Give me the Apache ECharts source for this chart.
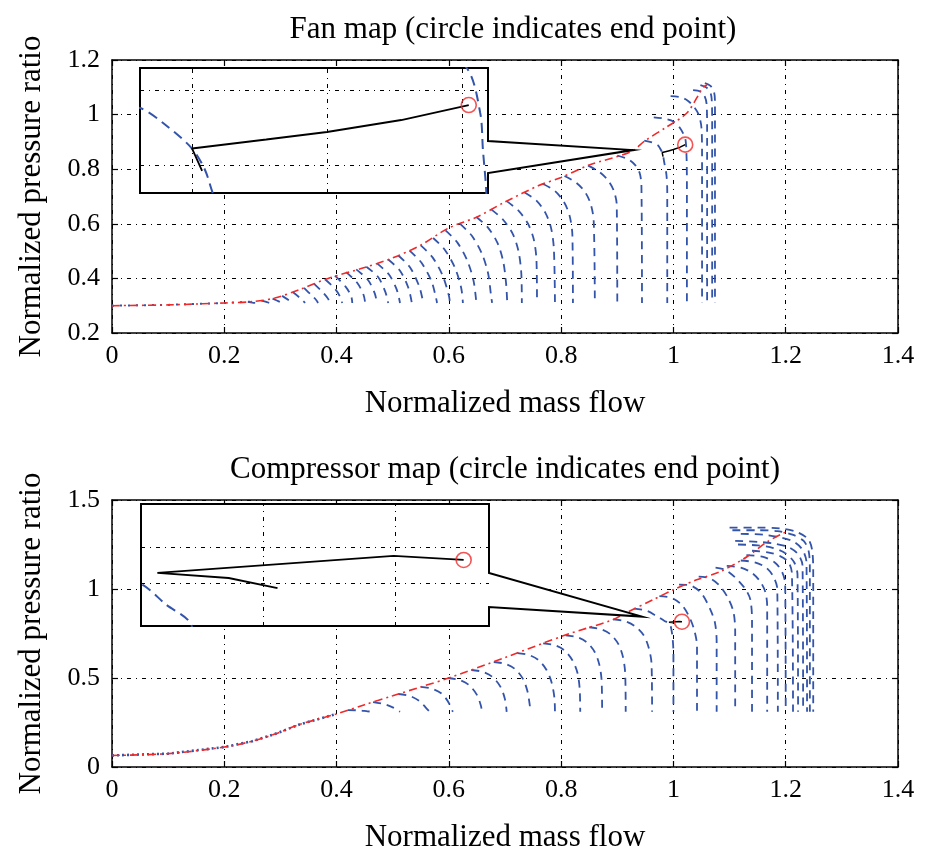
<!DOCTYPE html>
<html><head><meta charset="utf-8">
<script src="https://cdn.jsdelivr.net/npm/echarts@6/dist/echarts.min.js"></script>
<style>html,body{margin:0;padding:0;background:#fff}#c{width:925px;height:854px}</style>
</head><body><div id="c"></div>
<script>
// ---------------- DATA ----------------
const xTicks = [0, 0.2, 0.4, 0.6, 0.8, 1, 1.2, 1.4];
const fanYTicks = [0.2, 0.4, 0.6, 0.8, 1, 1.2];
const compYTicks = [0, 0.5, 1, 1.5];

// Fan map surge line (red dash-dot)
const fanSurgeX = [0, 0.1, 0.2, 0.25, 0.29, 0.335, 0.385, 0.45, 0.5, 0.55, 0.6, 0.65, 0.7, 0.76, 0.8, 0.85, 0.925, 0.95, 0.985, 1.024, 1.053, 1.06];
const fanSurgeY = [0.30, 0.303, 0.31, 0.315, 0.328, 0.36, 0.40, 0.44, 0.475, 0.522, 0.585, 0.625, 0.68, 0.74, 0.77, 0.815, 0.865, 0.905, 0.951, 1.006, 1.10, 1.108];

// Fan map speed lines (blue dashed), one array per line
const fanSpeedLines = [
 [[0.242,0.314],[0.250,0.311],[0.255,0.310]],
 [[0.266,0.319],[0.276,0.313],[0.281,0.310]],
 [[0.286,0.326],[0.297,0.316],[0.303,0.310]],
 [[0.303,0.336],[0.315,0.320],[0.322,0.310]],
 [[0.322,0.350],[0.335,0.328],[0.344,0.310]],
 [[0.342,0.365],[0.356,0.337],[0.364,0.320],[0.367,0.310]],
 [[0.360,0.380],[0.376,0.348],[0.385,0.325],[0.388,0.310]],
 [[0.380,0.396],[0.398,0.360],[0.407,0.330],[0.410,0.310]],
 [[0.397,0.410],[0.416,0.370],[0.426,0.335],[0.428,0.310]],
 [[0.417,0.423],[0.437,0.383],[0.448,0.340],[0.451,0.310]],
 [[0.435,0.433],[0.456,0.394],[0.468,0.345],[0.472,0.310]],
 [[0.453,0.443],[0.474,0.405],[0.487,0.350],[0.492,0.310]],
 [[0.472,0.455],[0.493,0.415],[0.507,0.360],[0.513,0.310]],
 [[0.492,0.469],[0.513,0.428],[0.528,0.365],[0.534,0.310]],
 [[0.510,0.484],[0.531,0.440],[0.547,0.372],[0.553,0.325],[0.554,0.310]],
 [[0.530,0.502],[0.551,0.458],[0.569,0.390],[0.577,0.330],[0.579,0.310]],
 [[0.550,0.521],[0.571,0.477],[0.589,0.410],[0.600,0.337],[0.602,0.310]],
 [[0.572,0.548],[0.593,0.504],[0.611,0.438],[0.622,0.365],[0.625,0.310]],
 [[0.594,0.576],[0.615,0.532],[0.633,0.464],[0.644,0.391],[0.649,0.310]],
 [[0.620,0.600],[0.641,0.556],[0.659,0.490],[0.670,0.417],[0.675,0.340],[0.677,0.310]],
 [[0.649,0.625],[0.670,0.585],[0.687,0.528],[0.697,0.460],[0.702,0.380],[0.704,0.310]],
 [[0.676,0.652],[0.697,0.614],[0.714,0.562],[0.724,0.500],[0.729,0.420],[0.730,0.310]],
 [[0.703,0.683],[0.724,0.648],[0.741,0.600],[0.751,0.545],[0.756,0.470],[0.757,0.310]],
 [[0.735,0.715],[0.756,0.685],[0.772,0.640],[0.782,0.585],[0.787,0.510],[0.789,0.310]],
 [[0.768,0.746],[0.789,0.720],[0.805,0.680],[0.815,0.630],[0.820,0.560],[0.821,0.310]],
 [[0.806,0.775],[0.827,0.750],[0.843,0.715],[0.853,0.670],[0.858,0.610],[0.860,0.310]],
 [[0.848,0.813],[0.868,0.790],[0.884,0.758],[0.894,0.720],[0.899,0.670],[0.900,0.310]],
 [[0.900,0.850],[0.918,0.838],[0.932,0.815],[0.940,0.785],[0.943,0.740],[0.944,0.310]],
 [[0.948,0.905],[0.962,0.898],[0.9723,0.888],[0.976,0.877],[0.980,0.861],[0.9819,0.847],[0.9831,0.831],[0.9875,0.780],[0.989,0.720],[0.989,0.310]],
 [[0.965,0.990],[0.985,0.985],[1.000,0.975],[1.012,0.950],[1.0207,0.9147],[1.0227,0.8847],[1.0231,0.860],[1.0236,0.8313],[1.024,0.750],[1.024,0.310]],
 [[0.995,1.068],[1.012,1.064],[1.025,1.052],[1.036,1.030],[1.045,1.000],[1.050,0.950],[1.051,0.850],[1.051,0.310]],
 [[1.035,1.090],[1.048,1.085],[1.055,1.070],[1.059,1.040],[1.060,0.950],[1.060,0.310]],
 [[1.048,1.108],[1.058,1.100],[1.065,1.085],[1.068,1.060],[1.069,0.980],[1.069,0.310]],
 [[1.056,1.115],[1.066,1.105],[1.072,1.085],[1.074,1.050],[1.074,0.310]]
];

// Fan operating trajectory (black) and its end point (red circle)
const fanPath = [[0.9815,0.846],[0.980,0.861],[0.991,0.867],[1.000,0.872],[1.011,0.880],[1.021,0.890]];
const fanEnd = [1.021, 0.890];
const fanInsetX = [0.9723, 1.02385];
const fanInsetY = [0.8313, 0.9147];
const fanInsetGridX = [0.98, 1.0, 1.02];
const fanInsetGridY = [0.85, 0.9];
const fanCalloutTip = [0.928, 0.870];

// Compressor map surge line
const compSurgeX = [0, 0.1, 0.2, 0.25, 0.29, 0.335, 0.4, 0.45, 0.5, 0.55, 0.6, 0.7, 0.81, 0.89, 0.92, 0.964, 1.0, 1.04, 1.083, 1.131, 1.167, 1.2];
const compSurgeY = [0.065, 0.075, 0.112, 0.145, 0.185, 0.24, 0.298, 0.35, 0.40, 0.45, 0.50, 0.615, 0.744, 0.825, 0.873, 0.94, 0.996, 1.05, 1.097, 1.181, 1.265, 1.32];

// Compressor map speed lines
const compSpeedLines = [
 [[0.420,0.320],[0.440,0.318],[0.455,0.313],[0.465,0.310]],
 [[0.465,0.365],[0.483,0.355],[0.500,0.335],[0.513,0.310]],
 [[0.510,0.410],[0.530,0.400],[0.548,0.370],[0.560,0.330],[0.566,0.310]],
 [[0.550,0.450],[0.570,0.440],[0.588,0.410],[0.600,0.360],[0.607,0.310]],
 [[0.598,0.500],[0.618,0.490],[0.636,0.460],[0.650,0.405],[0.657,0.345],[0.659,0.310]],
 [[0.640,0.545],[0.660,0.535],[0.678,0.505],[0.692,0.450],[0.700,0.380],[0.703,0.310]],
 [[0.680,0.590],[0.700,0.580],[0.718,0.550],[0.732,0.495],[0.740,0.425],[0.744,0.350],[0.745,0.310]],
 [[0.722,0.640],[0.742,0.630],[0.760,0.600],[0.774,0.545],[0.783,0.475],[0.788,0.390],[0.789,0.310]],
 [[0.768,0.695],[0.788,0.685],[0.806,0.655],[0.820,0.600],[0.829,0.530],[0.833,0.440],[0.834,0.310]],
 [[0.808,0.740],[0.828,0.730],[0.846,0.700],[0.860,0.645],[0.868,0.575],[0.872,0.490],[0.873,0.310]],
 [[0.850,0.785],[0.870,0.775],[0.888,0.745],[0.902,0.690],[0.910,0.620],[0.914,0.530],[0.915,0.310]],
 [[0.893,0.830],[0.913,0.820],[0.932,0.790],[0.947,0.740],[0.956,0.670],[0.961,0.580],[0.962,0.310]],
 [[0.930,0.890],[0.952,0.878],[0.970,0.848],[0.9835,0.822],[0.9908,0.8097],[0.9926,0.8042],[0.9946,0.7981],[0.998,0.740],[1.000,0.640],[1.000,0.310]],
 [[0.975,0.960],[0.997,0.950],[1.015,0.910],[1.028,0.845],[1.037,0.770],[1.042,0.680],[1.042,0.310]],
 [[1.010,1.025],[1.032,1.018],[1.050,0.975],[1.065,0.890],[1.074,0.810],[1.077,0.700],[1.077,0.310]],
 [[1.045,1.070],[1.065,1.060],[1.082,1.020],[1.097,0.950],[1.107,0.870],[1.110,0.760],[1.110,0.310]],
 [[1.075,1.120],[1.092,1.108],[1.110,1.065],[1.128,1.000],[1.137,0.940],[1.140,0.820],[1.140,0.310]],
 [[1.095,1.130],[1.120,1.120],[1.140,1.090],[1.155,1.040],[1.164,0.980],[1.167,0.900],[1.167,0.310]],
 [[1.120,1.160],[1.145,1.150],[1.165,1.120],[1.178,1.070],[1.185,1.000],[1.186,0.310]],
 [[1.130,1.190],[1.160,1.180],[1.180,1.150],[1.193,1.100],[1.199,1.030],[1.200,0.310]],
 [[1.140,1.215],[1.170,1.205],[1.190,1.185],[1.205,1.150],[1.211,1.090],[1.213,0.310]],
 [[1.115,1.250],[1.150,1.245],[1.178,1.230],[1.200,1.200],[1.215,1.150],[1.221,1.080],[1.222,0.310]],
 [[1.110,1.270],[1.150,1.265],[1.180,1.255],[1.205,1.235],[1.222,1.195],[1.230,1.130],[1.231,0.310]],
 [[1.120,1.310],[1.160,1.305],[1.190,1.290],[1.215,1.265],[1.230,1.220],[1.237,1.150],[1.238,0.310]],
 [[1.105,1.330],[1.150,1.330],[1.185,1.325],[1.212,1.305],[1.232,1.270],[1.241,1.210],[1.243,1.100],[1.243,0.310]],
 [[1.100,1.345],[1.150,1.345],[1.190,1.340],[1.220,1.320],[1.240,1.280],[1.247,1.220],[1.249,1.100],[1.249,0.310]]
];

const compPath = [[1.0011,0.8086],[0.9974,0.8114],[0.9920,0.8128],[1.0099,0.8175],[1.0152,0.8164]];
const compEnd = [1.0152, 0.8164];
const compInsetX = [0.99076, 1.01712];
const compInsetY = [0.7981, 0.8319];
const compInsetGridX = [0.995, 1.0, 1.005, 1.01, 1.015];
const compInsetGridY = [0.81, 0.82];
const compCalloutTip = [0.944, 0.845];

// ---------------- LAYOUT / STYLE ----------------
const FONT = '"Liberation Serif", "DejaVu Serif", serif';
const NAMESIZE = 31;
const BLUE = '#3354ab';
const RED = '#f02a2a';
const GRIDDASH = [4, 5, 1, 5];
const BLUEDASH = [8, 6];
const L = { top: { left: 112, top: 60, width: 786, height: 273 },
            bot: { left: 112, top: 500, width: 786, height: 268 } };
const BOX = { fan: { left: 140, top: 68, width: 348, height: 125, nTop: 141, nBot: 173 },
              comp: { left: 141, top: 504, width: 348, height: 122, nTop: 573, nBot: 607 } };

const pairs = (xs, ys) => xs.map((x, i) => [x, ys[i]]);
const fanSurge = pairs(fanSurgeX, fanSurgeY);
const compSurge = pairs(compSurgeX, compSurgeY);

function mainX(grid, pos, labeled) {
  return {
    type: 'value', gridIndex: grid, position: pos, min: xTicks[0], max: xTicks[xTicks.length - 1], interval: 0.2,
    name: labeled ? 'Normalized mass flow' : '', nameLocation: 'middle', nameGap: 55,
    nameTextStyle: { fontFamily: FONT, fontSize: NAMESIZE, color: '#000' },
    axisLine: { show: true, onZero: false, lineStyle: { color: '#000', width: 1.5 } },
    axisTick: { show: true, inside: true, length: 6, lineStyle: { color: '#000', width: 1.2 } },
    axisLabel: { show: labeled, fontFamily: FONT, fontSize: 26, color: '#000', margin: 10 },
    splitLine: { show: labeled, lineStyle: { color: '#000', type: GRIDDASH, width: 1 } }
  };
}
function mainY(grid, pos, labeled, ticks) {
  return {
    type: 'value', gridIndex: grid, position: pos, min: ticks[0], max: ticks[ticks.length - 1],
    interval: ticks[1] - ticks[0],
    name: labeled ? 'Normalized pressure ratio' : '', nameLocation: 'middle', nameGap: 65,
    nameTextStyle: { fontFamily: FONT, fontSize: NAMESIZE, color: '#000' },
    axisLine: { show: true, onZero: false, lineStyle: { color: '#000', width: 1.5 } },
    axisTick: { show: true, inside: true, length: 6, lineStyle: { color: '#000', width: 1.2 } },
    axisLabel: { show: labeled, fontFamily: FONT, fontSize: 26, color: '#000', margin: 12 },
    splitLine: { show: labeled, lineStyle: { color: '#000', type: GRIDDASH, width: 1 } }
  };
}
const hiddenAxis = (grid, r) => ({ type: 'value', gridIndex: grid, min: r[0], max: r[1], show: false });

function speedSeries(lines, ai, z, width, dash) {
  return lines.map(pts => ({
    type: 'line', xAxisIndex: ai, yAxisIndex: ai, data: pts, symbol: 'none', smooth: 0.3,
    z: z, silent: true, animation: false, clip: true,
    lineStyle: { color: BLUE, width: width, type: dash }
  }));
}
function lineSeries(data, ai, z, color, width, dash, smooth) {
  return { type: 'line', xAxisIndex: ai, yAxisIndex: ai, data: data, symbol: 'none', smooth: smooth || false,
    z: z, silent: true, animation: false, clip: true, lineStyle: { color: color, width: width, type: dash } };
}
function circleSeries(pt, ai, z) {
  return { type: 'scatter', xAxisIndex: ai, yAxisIndex: ai, data: [pt], symbol: 'circle', symbolSize: 15, z: z,
    silent: true, animation: false,
    itemStyle: { color: 'rgba(255,255,255,0)', borderColor: RED, borderWidth: 1.6 } };
}
function calloutSeries(tip, ai, box) {
  return {
    type: 'custom', xAxisIndex: ai, yAxisIndex: ai, data: [tip], z: 6, silent: true, animation: false, clip: false,
    renderItem: function (params, api) {
      const t = api.coord([api.value(0), api.value(1)]);
      const R = box.left + box.width, B = box.top + box.height;
      return { type: 'polygon',
        shape: { points: [[box.left, box.top], [R, box.top], [R, box.nTop], t, [R, box.nBot], [R, B], [box.left, B]] },
        style: { fill: '#fff', stroke: '#000', lineWidth: 2 } };
    }
  };
}
function insetGrid(ai, path, gx, gy) {
  const s = lineSeries(path, ai, 11, 'rgba(0,0,0,0)', 0, 'solid');
  s.markLine = { silent: true, z: 11, symbol: ['none', 'none'], label: { show: false }, animation: false,
    lineStyle: { color: '#000', type: GRIDDASH, width: 1 },
    data: gx.map(v => ({ xAxis: v })).concat(gy.map(v => ({ yAxis: v }))) };
  return s;
}

const series = [].concat(
  // Fan map main
  speedSeries(fanSpeedLines, 0, 2, 1.8, BLUEDASH),
  [lineSeries(fanSurge.filter(p => p[0] <= 0.25), 0, 3, BLUE, 2, [2, 6])],
  [lineSeries(fanSurge, 0, 4, RED, 1.6, [8, 4, 2, 4], 0.3)],
  [lineSeries(fanPath, 0, 4, '#000', 1.5, 'solid')],
  [circleSeries(fanEnd, 0, 5)],
  [calloutSeries(fanCalloutTip, 0, BOX.fan)],
  // Compressor main
  speedSeries(compSpeedLines, 1, 2, 1.8, BLUEDASH),
  [lineSeries(compSurge.filter(p => p[0] <= 0.4), 1, 3, BLUE, 2.6, [2, 3])],
  [lineSeries(compSurge, 1, 4, RED, 1.6, [8, 4, 2, 4], 0.3)],
  [lineSeries(compPath, 1, 4, '#000', 1.5, 'solid')],
  [circleSeries(compEnd, 1, 5)],
  [calloutSeries(compCalloutTip, 1, BOX.comp)],
  // Fan inset (zoom of the same data)
  [insetGrid(2, fanPath, fanInsetGridX, fanInsetGridY)],
  speedSeries(fanSpeedLines, 2, 12, 2, [10, 6]),
  [lineSeries(fanSurge, 2, 12, RED, 1.6, [8, 4, 2, 4], 0.3)],
  [lineSeries(fanPath, 2, 13, '#000', 1.8, 'solid')],
  [circleSeries(fanEnd, 2, 14)],
  // Compressor inset
  [insetGrid(3, compPath, compInsetGridX, compInsetGridY)],
  speedSeries(compSpeedLines, 3, 12, 2, [10, 6]),
  [lineSeries(compSurge, 3, 12, RED, 1.6, [8, 4, 2, 4], 0.3)],
  [lineSeries(compPath, 3, 13, '#000', 1.8, 'solid')],
  [circleSeries(compEnd, 3, 14)]
);

const option = {
  backgroundColor: '#fff',
  animation: false,
  grid: [
    Object.assign({}, L.top), Object.assign({}, L.bot),
    { left: BOX.fan.left, top: BOX.fan.top, width: BOX.fan.width, height: BOX.fan.height },
    { left: BOX.comp.left, top: BOX.comp.top, width: BOX.comp.width, height: BOX.comp.height }
  ],
  xAxis: [
    mainX(0, 'bottom', true), mainX(1, 'bottom', true),
    hiddenAxis(2, fanInsetX), hiddenAxis(3, compInsetX),
    mainX(0, 'top', false), mainX(1, 'top', false)
  ],
  yAxis: [
    mainY(0, 'left', true, fanYTicks), mainY(1, 'left', true, compYTicks),
    hiddenAxis(2, fanInsetY), hiddenAxis(3, compInsetY),
    mainY(0, 'right', false, fanYTicks), mainY(1, 'right', false, compYTicks)
  ],
  graphic: [
    { type: 'text', x: 513, y: 30, z: 100,
      style: { text: 'Fan map (circle indicates end point)', font: NAMESIZE + 'px ' + FONT, fill: '#000',
        align: 'center', verticalAlign: 'middle', textAlign: 'center', textVerticalAlign: 'middle' } },
    { type: 'text', x: 505, y: 470, z: 100,
      style: { text: 'Compressor map (circle indicates end point)', font: NAMESIZE + 'px ' + FONT, fill: '#000',
        align: 'center', verticalAlign: 'middle', textAlign: 'center', textVerticalAlign: 'middle' } }
  ],
  series: series
};

const chart = echarts.init(document.getElementById('c'));
chart.setOption(option);
</script></body></html>
